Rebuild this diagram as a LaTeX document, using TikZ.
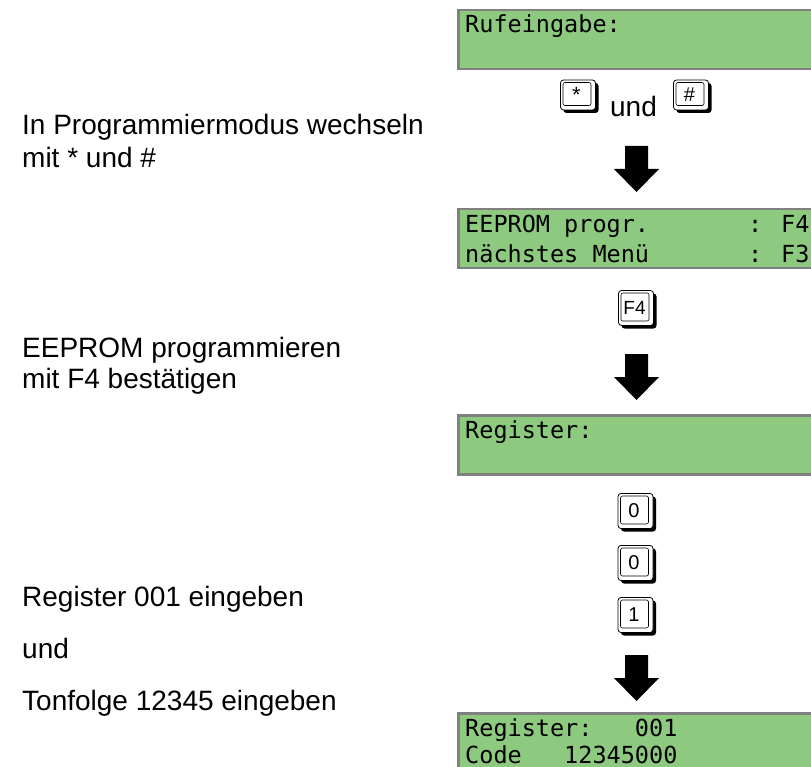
\documentclass[tikz,border=0pt]{standalone}
\usepackage{fontspec}
\setmainfont{Liberation Sans}
\newfontfamily\lcdfont{DejaVu Sans Mono}
\definecolor{lcdgreen}{RGB}{141,201,126}
\definecolor{lcdgray}{RGB}{128,128,128}
\usetikzlibrary{positioning,shadows}

\begin{document}
\begin{tikzpicture}[x=1pt, y=-1pt,
    lcd/.style={rectangle, draw=lcdgray, line width=2.5pt, fill=lcdgreen,
      anchor=north west, minimum width=380pt, minimum height=59pt, inner sep=0pt},
    lcdtext/.style={anchor=base west, inner sep=0pt,
      font=\lcdfont\fontsize{23.5}{28}\selectfont},
    erkl/.style={anchor=base west, inner sep=0pt, font=\fontsize{28}{33}\selectfont},
    taste/.style={rectangle, rounded corners=3pt, draw=black, line width=0.8pt,
      fill=white, minimum width=35pt, minimum height=35pt, inner sep=0pt,
      font=\fontsize{20}{20}\selectfont,
      execute at begin node={\hspace*{-3pt}},
      drop shadow={shadow xshift=3pt, shadow yshift=-3pt, fill=black, opacity=1},
      path picture={\draw[line width=0.6pt, rounded corners=2pt]
        ([shift={(2.5pt,-2.5pt)}]path picture bounding box.north west) rectangle
        ([shift={(-4.5pt,4.5pt)}]path picture bounding box.south east);}},
    pfeil/.pic={\fill[black] (-11.5,0) -- (11.5,0) -- (11.5,23) -- (22.5,23)
      -- (0,46) -- (-22.5,23) -- (-11.5,23) -- cycle;}
  ]
    \useasboundingbox (0,0) rectangle (811,767);
    \clip (0,0) rectangle (811,767);
    % Explanations
    \node[erkl] (erkl1a) at (22,135) {In Programmiermodus wechseln};
    \node[erkl] (erkl1b) at (22,168) {mit * und \#};
    \node[erkl] (erkl2a) at (22,357) {EEPROM programmieren};
    \node[erkl] (erkl2b) at (22,388) {mit F4 bestätigen};
    \node[erkl] (erkl3a) at (22,606) {Register 001 eingeben};
    \node[erkl] (erkl3b) at (22,658) {und};
    \node[erkl] (erkl3c) at (22,710) {Tonfolge 12345 eingeben};
    % Displays
    \node[lcd] (lcd1) at (457,9) {};
    \node[lcdtext] at ([shift={(8,24)}]lcd1.north west) {Rufeingabe:};
    \node[lcd] (lcd2) at (457,208) {};
    \node[lcdtext] at ([shift={(8,25)}]lcd2.north west) {EEPROM progr.~~~~~~~: F4};
    \node[lcdtext] at ([shift={(8,55)}]lcd2.north west) {nächstes Menü~~~~~~~: F3};
    \node[lcd] (lcd3) at (457,414) {};
    \node[lcdtext] at ([shift={(8,24)}]lcd3.north west) {Register:};
    \node[lcd] (lcd4) at (457,712) {};
    \node[lcdtext] at ([shift={(8,24)}]lcd4.north west) {Register:~~~001};
    \node[lcdtext] at ([shift={(8,51)}]lcd4.north west) {Code~~~12345000};
    % Keys
    \node[taste, minimum height=30pt, font=\fontsize{22}{22}\selectfont] (stern) at (578,95) {*};
    \node[font=\fontsize{28}{28}\selectfont, anchor=base, inner sep=0pt] (und) at (633.5,117) {und};
    \node[taste, minimum height=30pt] (raute) at (691,95) {\#};
    \node[taste, font=\fontsize{19}{19}\selectfont] (f4) at (636,308) {F4};
    \node[taste] (null1) at (635.5,511) {0};
    \node[taste] (null2) at (635.5,563) {0};
    \node[taste] (eins) at (635.5,615) {1};
    % Arrows
    \pic at (636.5,146) {pfeil};
    \pic at (636.5,354) {pfeil};
    \pic at (636.5,655) {pfeil};
\end{tikzpicture}
\end{document}
